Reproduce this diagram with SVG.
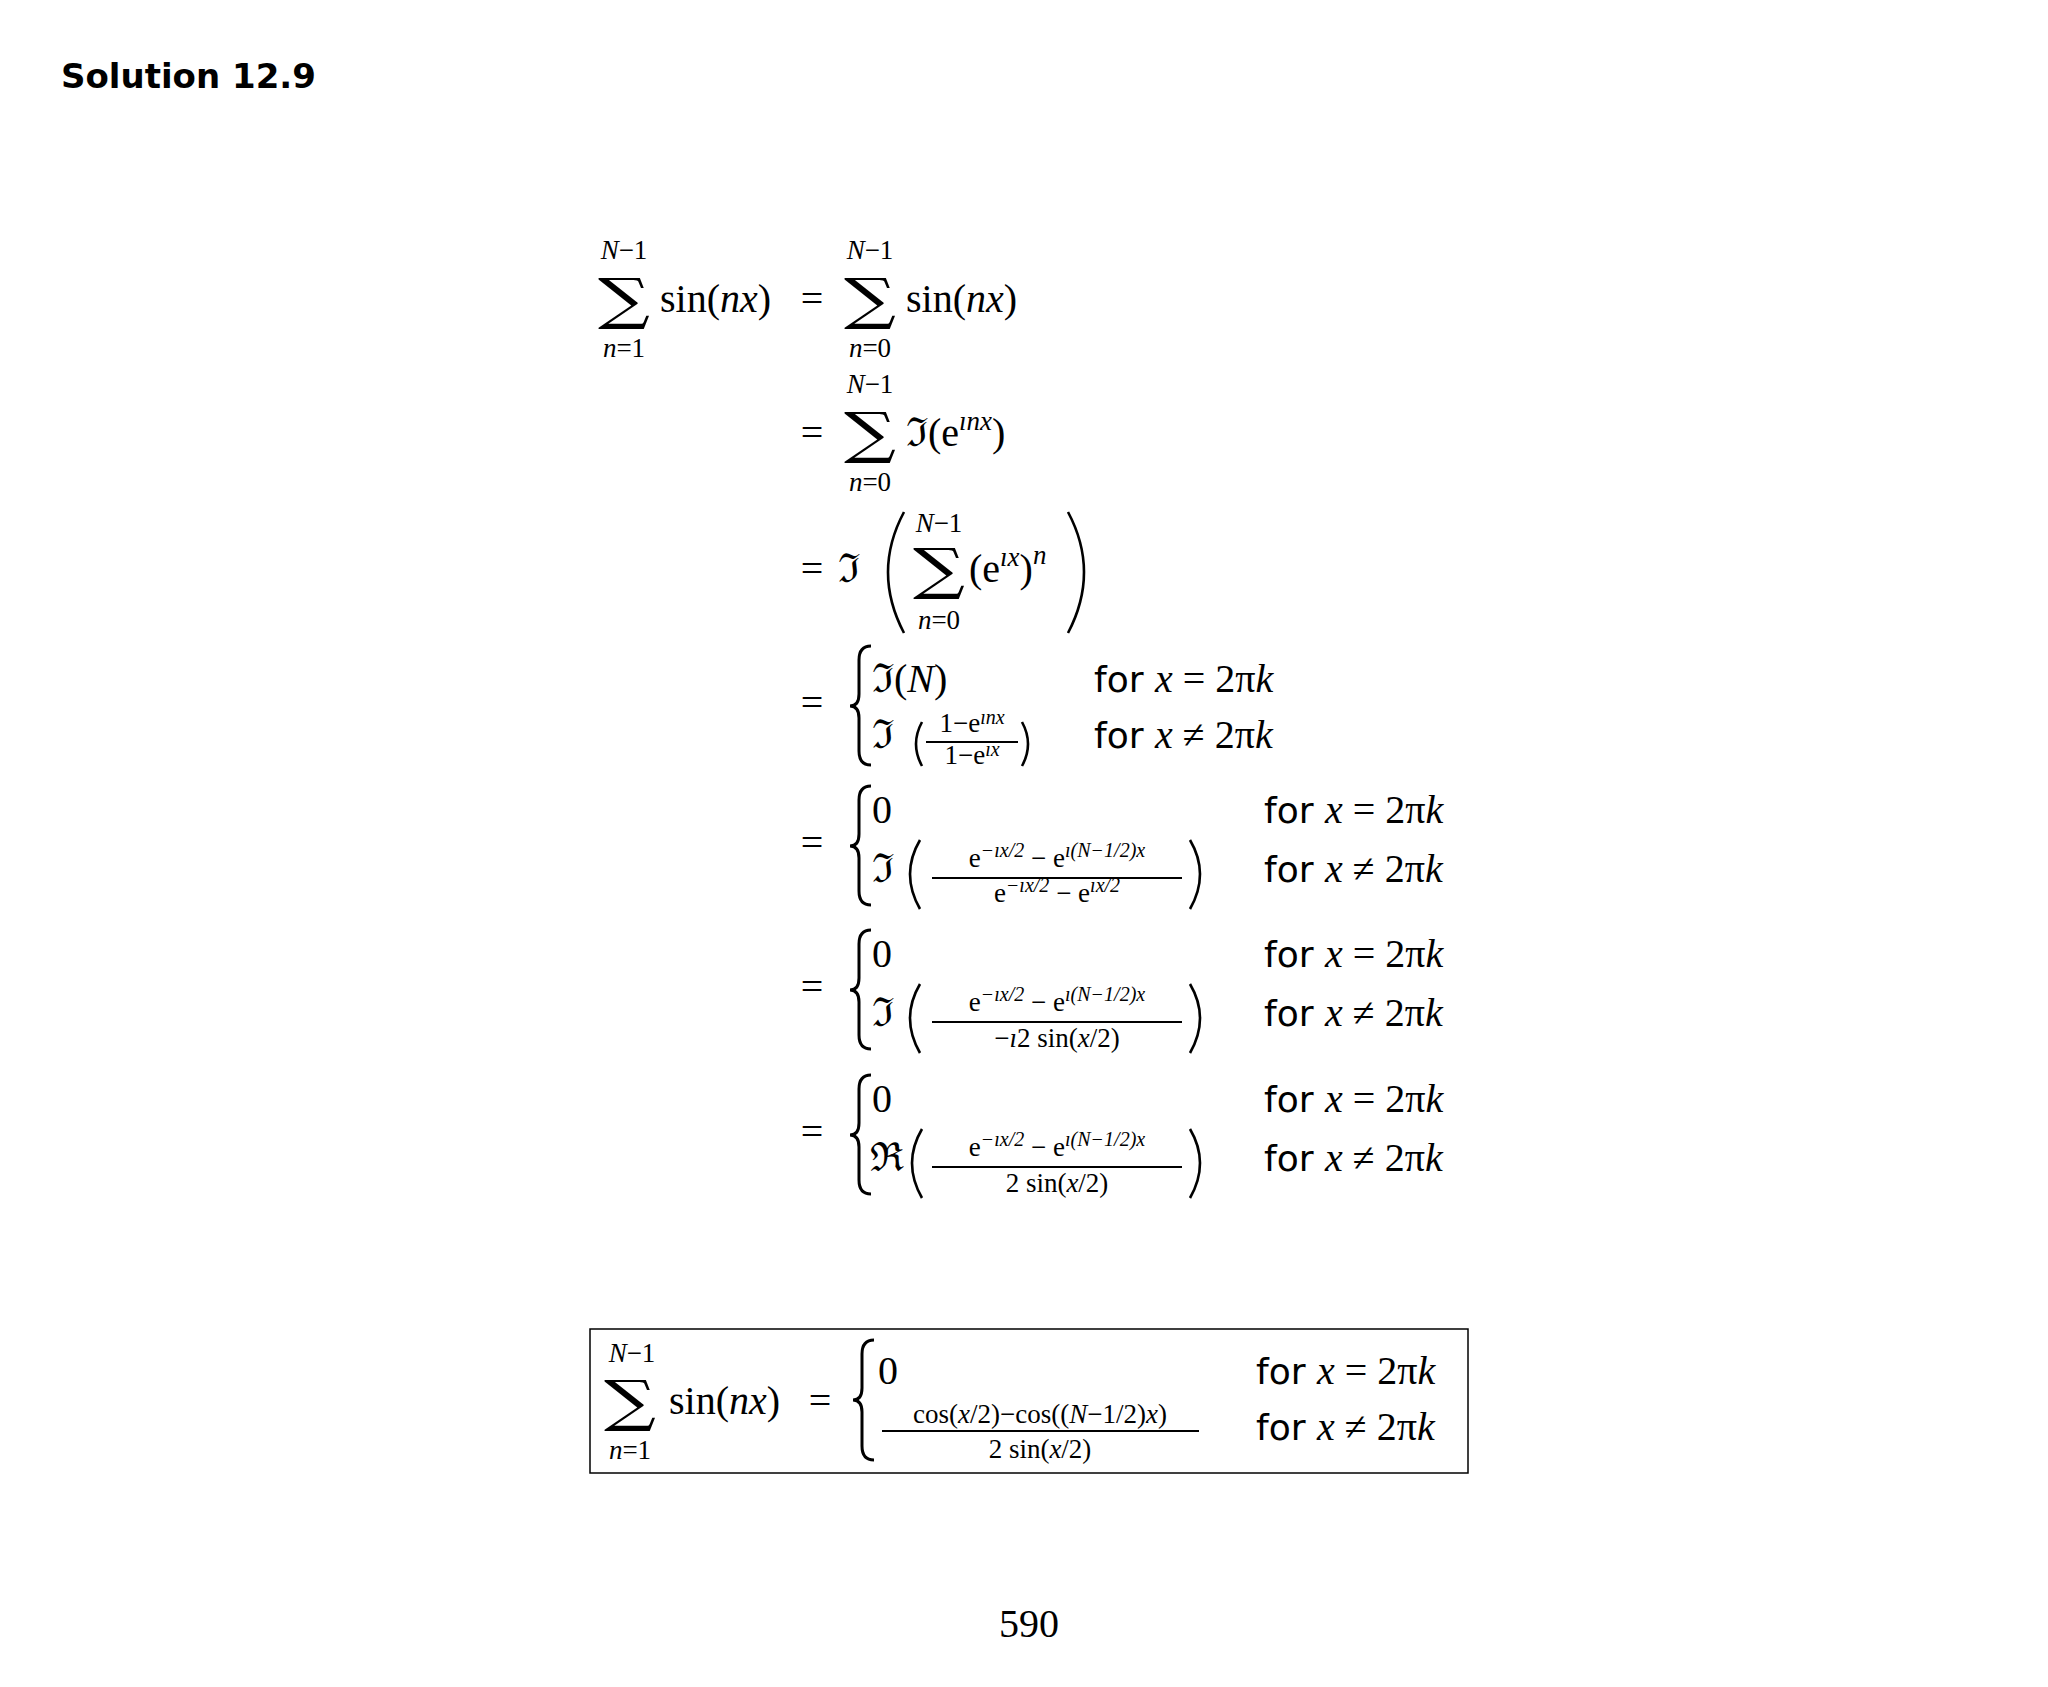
<svg xmlns="http://www.w3.org/2000/svg" width="2048" height="1687" viewBox="0 0 2048 1687">
<style>
text{font-family:"DejaVu Serif","Liberation Serif",serif;fill:#000}
.m{font-family:"Liberation Serif","DejaVu Serif",serif;font-size:40px}
.s{font-family:"Liberation Serif","DejaVu Serif",serif;font-size:27px}
.t{font-family:"Liberation Serif","DejaVu Serif",serif;font-size:27px}
.u{font-size:20px;font-style:italic}
.sig{font-family:"DejaVu Serif",serif;font-size:56px}
.f{font-family:"DejaVu Sans","Liberation Sans",sans-serif;font-size:36px}
.i{font-style:italic}
.br{fill:none;stroke:#000;stroke-width:3}
.p{fill:none;stroke:#000;stroke-width:2.6}
.ln{stroke:#000;stroke-width:2}
</style>
<rect width="2048" height="1687" fill="#fff"/>
<text x="61" y="88" style="font-family:'DejaVu Sans','Liberation Sans',sans-serif;font-weight:bold;font-size:34px">Solution 12.9</text>

<g id="row1">
<text class="sig" transform="translate(624,318) scale(1.3,1)" text-anchor="middle">∑</text>
<text class="s" x="624" y="259" text-anchor="middle"><tspan class="i">N</tspan>−1</text>
<text class="s" x="624" y="357" text-anchor="middle"><tspan class="i">n</tspan>=1</text>
<text class="m" x="660" y="312">sin(<tspan class="i">nx</tspan>)</text>
<text class="m" x="812" y="312" text-anchor="middle">=</text>
<text class="sig" transform="translate(870,318) scale(1.3,1)" text-anchor="middle">∑</text>
<text class="s" x="870" y="259" text-anchor="middle"><tspan class="i">N</tspan>−1</text>
<text class="s" x="870" y="357" text-anchor="middle"><tspan class="i">n</tspan>=0</text>
<text class="m" x="906" y="312">sin(<tspan class="i">nx</tspan>)</text>
</g>

<g id="row2">
<text class="m" x="812" y="446" text-anchor="middle">=</text>
<text class="sig" transform="translate(870,452) scale(1.3,1)" text-anchor="middle">∑</text>
<text class="s" x="870" y="393" text-anchor="middle"><tspan class="i">N</tspan>−1</text>
<text class="s" x="870" y="491" text-anchor="middle"><tspan class="i">n</tspan>=0</text>
<text class="m" x="906" y="446">ℑ(e<tspan class="s i" dy="-16">ınx</tspan><tspan dy="16">)</tspan></text>
</g>

<g id="row3">
<text class="m" x="812" y="582" text-anchor="middle">=</text>
<text class="m" x="838" y="582">ℑ</text>
<path class="p" d="M904,512 Q872,572 904,633"/>
<text class="sig" transform="translate(939,588) scale(1.3,1)" text-anchor="middle">∑</text>
<text class="s" x="939" y="532" text-anchor="middle"><tspan class="i">N</tspan>−1</text>
<text class="s" x="939" y="629" text-anchor="middle"><tspan class="i">n</tspan>=0</text>
<text class="m" x="969" y="582">(e<tspan class="s i" dy="-16">ıx</tspan><tspan dy="16">)</tspan><tspan class="s i" dy="-18">n</tspan></text>
<path class="p" d="M1068,512 Q1100,572 1068,633"/>
</g>

<g id="row4">
<text class="m" x="812" y="716" text-anchor="middle">=</text>
<path class="br" d="M871,646 Q859,646 859,660 L859,694 Q859,706 850,706 Q859,706 859,718 L859,751 Q859,765 871,765"/>
<text class="m" x="872" y="692">ℑ(<tspan class="i">N</tspan>)</text>
<text class="m" x="872" y="748">ℑ</text>
<path class="p" d="M922,722 Q910,744 922,766"/>
<text class="t" x="972" y="732" text-anchor="middle" font-size="23">1−e<tspan class="u" font-size="17" dy="-8">ınx</tspan></text>
<line class="ln" x1="926" y1="742" x2="1018" y2="742"/>
<text class="t" x="972" y="764" text-anchor="middle" font-size="23">1−e<tspan class="u" font-size="17" dy="-8">ıx</tspan></text>
<path class="p" d="M1022,722 Q1034,744 1022,766"/>
<text class="f" x="1094" y="692">for <tspan class="m i">x</tspan><tspan class="m"> = 2π</tspan><tspan class="m i">k</tspan></text>
<text class="f" x="1094" y="748">for <tspan class="m i">x</tspan><tspan class="m"> ≠ 2π</tspan><tspan class="m i">k</tspan></text>
</g>

<g id="row5">
<text class="m" x="812" y="856" text-anchor="middle">=</text>
<path class="br" d="M871,786 Q859,786 859,800 L859,834 Q859,846 850,846 Q859,846 859,858 L859,891 Q859,905 871,905"/>
<text class="m" x="872" y="823">0</text>
<text class="m" x="872" y="882">ℑ</text>
<path class="p" d="M920,840 Q900,874 920,909"/>
<text class="t" x="1057" y="867" text-anchor="middle">e<tspan class="u" dy="-10">−ıx/2</tspan><tspan dy="10"> − e</tspan><tspan class="u" dy="-10">ı(N−1/2)x</tspan></text>
<line class="ln" x1="932" y1="878" x2="1182" y2="878"/>
<text class="t" x="1057" y="902" text-anchor="middle">e<tspan class="u" dy="-10">−ıx/2</tspan><tspan dy="10"> − e</tspan><tspan class="u" dy="-10">ıx/2</tspan></text>
<path class="p" d="M1190,840 Q1210,874 1190,909"/>
<text class="f" x="1264" y="823">for <tspan class="m i">x</tspan><tspan class="m"> = 2π</tspan><tspan class="m i">k</tspan></text>
<text class="f" x="1264" y="882">for <tspan class="m i">x</tspan><tspan class="m"> ≠ 2π</tspan><tspan class="m i">k</tspan></text>
</g>

<g id="row6">
<text class="m" x="812" y="1000" text-anchor="middle">=</text>
<path class="br" d="M871,930 Q859,930 859,944 L859,978 Q859,990 850,990 Q859,990 859,1002 L859,1035 Q859,1049 871,1049"/>
<text class="m" x="872" y="967">0</text>
<text class="m" x="872" y="1026">ℑ</text>
<path class="p" d="M920,984 Q900,1018 920,1053"/>
<text class="t" x="1057" y="1011" text-anchor="middle">e<tspan class="u" dy="-10">−ıx/2</tspan><tspan dy="10"> − e</tspan><tspan class="u" dy="-10">ı(N−1/2)x</tspan></text>
<line class="ln" x1="932" y1="1022" x2="1182" y2="1022"/>
<text class="t" x="1057" y="1047" text-anchor="middle">−<tspan class="i">ı</tspan>2 sin(<tspan class="i">x</tspan>/2)</text>
<path class="p" d="M1190,984 Q1210,1018 1190,1053"/>
<text class="f" x="1264" y="967">for <tspan class="m i">x</tspan><tspan class="m"> = 2π</tspan><tspan class="m i">k</tspan></text>
<text class="f" x="1264" y="1026">for <tspan class="m i">x</tspan><tspan class="m"> ≠ 2π</tspan><tspan class="m i">k</tspan></text>
</g>

<g id="row7">
<text class="m" x="812" y="1145" text-anchor="middle">=</text>
<path class="br" d="M871,1075 Q859,1075 859,1089 L859,1123 Q859,1135 850,1135 Q859,1135 859,1147 L859,1180 Q859,1194 871,1194"/>
<text class="m" x="872" y="1112">0</text>
<text class="m" x="870" y="1171">ℜ</text>
<path class="p" d="M922,1129 Q902,1163 922,1198"/>
<text class="t" x="1057" y="1156" text-anchor="middle">e<tspan class="u" dy="-10">−ıx/2</tspan><tspan dy="10"> − e</tspan><tspan class="u" dy="-10">ı(N−1/2)x</tspan></text>
<line class="ln" x1="932" y1="1167" x2="1182" y2="1167"/>
<text class="t" x="1057" y="1192" text-anchor="middle">2 sin(<tspan class="i">x</tspan>/2)</text>
<path class="p" d="M1190,1129 Q1210,1163 1190,1198"/>
<text class="f" x="1264" y="1112">for <tspan class="m i">x</tspan><tspan class="m"> = 2π</tspan><tspan class="m i">k</tspan></text>
<text class="f" x="1264" y="1171">for <tspan class="m i">x</tspan><tspan class="m"> ≠ 2π</tspan><tspan class="m i">k</tspan></text>
</g>

<g id="result">
<rect x="590" y="1329" width="878" height="144" fill="none" stroke="#000" stroke-width="1.5"/>
<text class="sig" transform="translate(630,1420) scale(1.3,1)" text-anchor="middle">∑</text>
<text class="s" x="632" y="1362" text-anchor="middle"><tspan class="i">N</tspan>−1</text>
<text class="s" x="630" y="1459" text-anchor="middle"><tspan class="i">n</tspan>=1</text>
<text class="m" x="669" y="1414">sin(<tspan class="i">nx</tspan>)</text>
<text class="m" x="820" y="1414" text-anchor="middle">=</text>
<path class="br" d="M874,1340 Q862,1340 862,1354 L862,1388 Q862,1400 853,1400 Q862,1400 862,1412 L862,1446 Q862,1460 874,1460"/>
<text class="m" x="878" y="1384">0</text>
<text class="t" x="1040" y="1423" text-anchor="middle">cos(<tspan class="i">x</tspan>/2)−cos((<tspan class="i">N</tspan>−1/2)<tspan class="i">x</tspan>)</text>
<line class="ln" x1="882" y1="1431" x2="1199" y2="1431"/>
<text class="t" x="1040" y="1458" text-anchor="middle">2 sin(<tspan class="i">x</tspan>/2)</text>
<text class="f" x="1256" y="1384">for <tspan class="m i">x</tspan><tspan class="m"> = 2π</tspan><tspan class="m i">k</tspan></text>
<text class="f" x="1256" y="1440">for <tspan class="m i">x</tspan><tspan class="m"> ≠ 2π</tspan><tspan class="m i">k</tspan></text>
</g>

<text class="m" x="1029" y="1637" text-anchor="middle" font-size="38">590</text>
</svg>
